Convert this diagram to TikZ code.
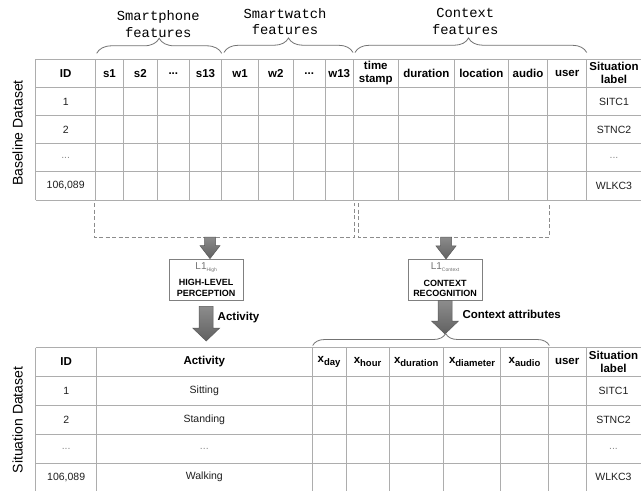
\documentclass[tikz,border=0pt]{standalone}
\usepackage{fontspec}
\setmainfont{Liberation Sans}
\newfontfamily\monof{Liberation Mono}
\usetikzlibrary{decorations.pathreplacing,calc}
\newcommand{\tdots}{...}
\newcommand{\bignum}{106,089}
\newcommand{\xsub}[1]{x\raisebox{-3.5pt}{\fontsize{9.5}{10}\selectfont #1}}
\begin{document}
\begin{tikzpicture}[x=1pt,y=-1pt,
  grid/.style={draw=black!32, line width=0.8pt},
  hdr/.style={font=\fontsize{11.5}{13}\selectfont\bfseries, align=center, inner sep=0pt},
  cell/.style={font=\fontsize{10.5}{12}\selectfont, text=black!88, inner sep=0pt},
  dimcell/.style={font=\fontsize{10.5}{12}\selectfont, text=black!45, inner sep=0pt},
  bracelbl/.style={font=\monof\fontsize{13.8}{16.4}\selectfont, align=center, inner sep=0pt},
  curly/.style={draw=black!55, line width=0.8pt, decorate},
  dashbox/.style={draw=black!45, line width=0.8pt, dash pattern=on 4pt off 2.5pt},
  procbox/.style={draw=black!50, line width=0.7pt, fill=white, minimum width=74pt, minimum height=41pt, inner sep=0pt, align=center, font=\fontsize{9}{10.5}\selectfont\bfseries},
  sidelbl/.style={rotate=90, font=\fontsize{14}{16}\selectfont, inner sep=0pt},
  flowlbl/.style={font=\fontsize{11.5}{13}\selectfont\bfseries, inner sep=0pt},
  arrowfill/.style={top color=black!45, bottom color=black!62, draw=black!65, line width=0.5pt},
  smallarrow/.style={arrowfill, to path={let \p1=(\tikztostart), \p2=(\tikztotarget) in
    (\x1-5.5pt,\y1) -- (\x1-5.5pt,\y2+13pt) -- (\x1-10pt,\y2+13pt) -- (\x1,\y2) -- (\x1+10pt,\y2+13pt) -- (\x1+5.5pt,\y2+13pt) -- (\x1+5.5pt,\y1) -- cycle}},
  bigarrow/.style={arrowfill, to path={let \p1=(\tikztostart), \p2=(\tikztotarget) in
    (\x1-7pt,\y1) -- (\x1-7pt,\y2+13pt) -- (\x1-13.5pt,\y2+13pt) -- (\x1,\y2) -- (\x1+13.5pt,\y2+13pt) -- (\x1+7pt,\y2+13pt) -- (\x1+7pt,\y1) -- cycle}}
]
\useasboundingbox (0,0) rectangle (641,491);
\fill[white] (0,0) rectangle (641,491);

% ---------- side labels
\node[sidelbl] (baseline) at (17.5,133) {Baseline Dataset};
\node[sidelbl] (situation) at (17.5,420) {Situation Dataset};

% ---------- top table grid
\foreach \y in {59,87.3,115.7,143.5,171.7,200}
  \draw[grid] (35.7,\y) -- (641,\y);
\foreach \x in {35.7,95.7,123.3,157.3,189.3,221.7,258.3,293.3,325,353.3,398.3,454.3,508.3,547.7,586.7}
  \draw[grid] (\x,59) -- (\x,200);

% top header
\foreach \x/\t [count=\i] in {65.7/ID,109.5/s1,140.3/s2,173.3/\tdots,205.5/s13,240/w1,275.8/w2,309.2/\tdots,339.2/w13,375.8/time\\stamp,426.3/duration,481.3/location,528/audio,567.2/user,614/Situation\\label}
  \node[hdr] (th\i) at (\x,73.2) {\t};

% top body
\foreach \y/\a/\b [count=\i] in {101.5/1/SITC1,129.6/2/STNC2,185.9/\bignum/WLKC3}
  {\node[cell] (tid\i) at (65.7,\y) {\a};
   \node[cell] (tlab\i) at (614,\y) {\b};}
\node[dimcell] (tiddots) at (65.7,157.6) {\tdots};
\node[dimcell] (tlabdots) at (614,157.6) {\tdots};

% ---------- top braces
\draw[curly, decoration={brace, amplitude=15pt}] (96.7,53.3) -- (221.7,53.3);
\draw[curly, decoration={brace, amplitude=14.5pt}] (224,52.5) -- (353,52.5);
\draw[curly, decoration={brace, amplitude=14.5pt, aspect=0.49}] (355,52.5) -- (586.7,52.5);
\node[bracelbl] (bphone) at (158.3,24) {Smartphone\\features};
\node[bracelbl] (bwatch) at (285,21.3) {Smartwatch\\features};
\node[bracelbl] (bctx) at (465.3,21.3) {Context\\features};

% ---------- dashed selections
\draw[dashbox] (94,203) -- (94,237) -- (354,237) -- (354,203);
\draw[dashbox] (358.3,203) -- (358.3,237) -- (549.3,237) -- (549.3,203);
\coordinate (dashL) at (210,237);
\coordinate (dashR) at (446,237);

% ---------- processing boxes
\node[procbox] (high) at (206.2,279.5) {{\mdseries\color{black!55}\fontsize{10}{10}\selectfont L1\raisebox{-2pt}{\fontsize{5}{5}\selectfont High}}\\[6pt]HIGH-LEVEL\\PERCEPTION};
\node[procbox] (ctx) at (445,279.8) {{\mdseries\color{black!55}\fontsize{10}{10}\selectfont L1\raisebox{-2pt}{\fontsize{5}{5}\selectfont Context}}\\[6pt]CONTEXT\\RECOGNITION};

\draw[smallarrow] (dashL) to (dashL |- high.north);
\draw[smallarrow] (dashR) to (dashR |- ctx.north);

\coordinate (actTip) at (206.5,341);
\coordinate (ctxTip) at (445.5,334);
\draw[bigarrow] ($(high.south)+(0,6)$) to (actTip);
\draw[bigarrow] (ctx.south) to (ctxTip);

\node[flowlbl] (actlbl) at (238.5,317.7) {Activity};
\node[flowlbl] (ctxlbl) at (511.7,314.3) {Context attributes};

% bottom brace
\draw[curly, decoration={brace, amplitude=12pt, aspect=0.562}] (312.7,345.5) -- (549.3,345.5);

% ---------- bottom table grid
\foreach \y in {347.7,376,405.7,434.7,463.3}
  \draw[grid] (35.7,\y) -- (641,\y);
\foreach \x in {35.7,96.7,312,346,389,443.3,500.7,548.3,586}
  \draw[grid] (\x,347.7) -- (\x,491);

\foreach \x/\t [count=\i] in {66.2/ID,204.3/Activity,329/\xsub{day},367.5/\xsub{hour},416.2/\xsub{duration},472/\xsub{diameter},524.5/\xsub{audio},567.2/user,613.5/Situation\\label}
  \node[hdr] (bh\i) at (\x,361.8) {\t};

\foreach \y/\a/\b/\c [count=\i] in {390.8/1/Sitting/SITC1,420.2/2/Standing/STNC2,477.2/\bignum/Walking/WLKC3}
  {\node[cell] (bid\i) at (66.2,\y) {\a};
   \node[cell] (bact\i) at (204.3,\y) {\b};
   \node[cell] (blab\i) at (613.5,\y) {\c};}
\node[dimcell] (biddots) at (66.2,449) {\tdots};
\node[dimcell] (bactdots) at (204.3,449) {\tdots};
\node[dimcell] (blabdots) at (613.5,449) {\tdots};
\end{tikzpicture}
\end{document}
